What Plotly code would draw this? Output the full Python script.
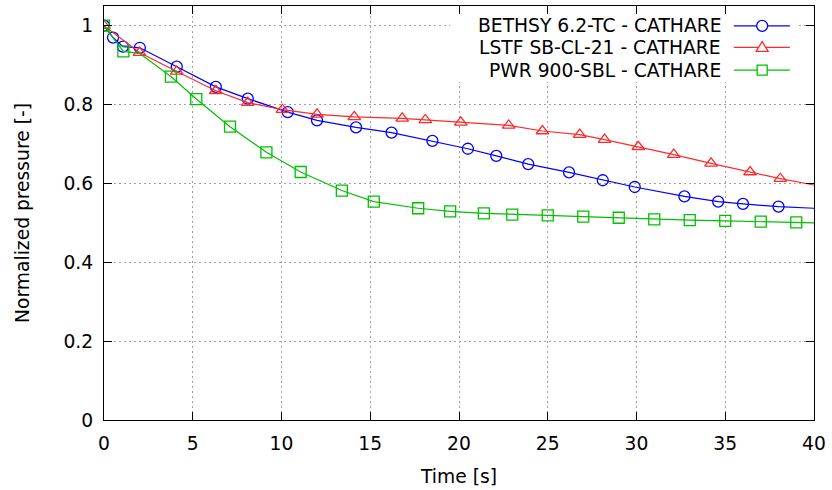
import plotly.graph_objects as go

# BETHSY 6.2-TC - CATHARE (markers)
bethsy_t = [0.0, 0.51, 1.07, 2.02, 4.1, 6.3, 8.1, 10.35, 12.0, 14.2, 16.2, 18.5, 20.5,
            22.1, 23.9, 26.2, 28.1, 29.9, 32.7, 34.6, 36.0, 38.0]
bethsy_p = [1.0, 0.970, 0.947, 0.944, 0.896, 0.845, 0.815, 0.781, 0.760, 0.742, 0.729,
            0.708, 0.688, 0.670, 0.649, 0.628, 0.608, 0.591, 0.567, 0.554, 0.548, 0.541]
bethsy_end = (40.0, 0.537)

# LSTF SB-CL-21 - CATHARE (markers)
lstf_t = [0.0, 2.0, 4.1, 6.3, 8.1, 10.05, 12.0, 14.1, 16.8, 18.1, 20.1, 22.8, 24.7,
          26.8, 28.2, 30.1, 32.1, 34.2, 36.4, 38.1]
lstf_p = [1.0, 0.932, 0.884, 0.835, 0.805, 0.787, 0.775, 0.769, 0.765, 0.761, 0.755,
          0.747, 0.733, 0.724, 0.711, 0.693, 0.673, 0.651, 0.629, 0.612]
lstf_end = (40.0, 0.596)

# PWR 900-SBL - CATHARE (markers)
pwr_t = [0.0, 1.09, 3.77, 5.2, 7.1, 9.15, 11.08, 13.4, 15.2, 17.7, 19.5, 21.4, 23.0,
         25.0, 27.0, 29.0, 31.0, 33.0, 35.0, 37.0, 39.0]
pwr_p = [1.0, 0.935, 0.871, 0.814, 0.744, 0.679, 0.629, 0.582, 0.554, 0.537, 0.529,
         0.524, 0.521, 0.519, 0.516, 0.513, 0.509, 0.507, 0.505, 0.503, 0.501]
pwr_extra = (2.0, 0.930)
pwr_end = (40.0, 0.500)

names = ["BETHSY 6.2-TC - CATHARE", "LSTF SB-CL-21 - CATHARE", "PWR 900-SBL - CATHARE"]
colors = ["#0000ff", "#ff2a2a", "#00c000"]
symbols = ["circle-open", "triangle-up-open", "square-open"]

font = "DejaVu Sans, Verdana, sans-serif"
fsize = 18.7

series = [
    (bethsy_t, bethsy_p, bethsy_t + [bethsy_end[0]], bethsy_p + [bethsy_end[1]]),
    (lstf_t, lstf_p, lstf_t + [lstf_end[0]], lstf_p + [lstf_end[1]]),
    (pwr_t, pwr_p,
     pwr_t[:2] + [pwr_extra[0]] + pwr_t[2:] + [pwr_end[0]],
     pwr_p[:2] + [pwr_extra[1]] + pwr_p[2:] + [pwr_end[1]]),
]

fig = go.Figure()
for (mt, mp, lt, lp), name, color, sym in zip(series, names, colors, symbols):
    fig.add_trace(go.Scatter(x=lt, y=lp, mode="lines", line=dict(color=color, width=1.2),
                             showlegend=False, hoverinfo="skip"))
    fig.add_trace(go.Scatter(x=mt, y=mp, mode="markers", name=name,
                             marker=dict(symbol=sym, size=11, color=color,
                                         line=dict(width=1.3, color=color)),
                             showlegend=False))

# the key blanks out the grid behind it (opaque, borderless box)
fig.add_shape(type="rect", xref="x", yref="y", x0=19.5, x1=39.15, y0=0.857, y1=1.05,
              layer="between", line=dict(width=0), fillcolor="white")

# gnuplot-style key: text right-aligned, sample on the right
row_y = [0.952, 0.900, 0.845]
for name, color, sym, ry in zip(names, colors, symbols, row_y):
    fig.add_annotation(x=0.8715, y=ry, xref="paper", yref="paper", text=name,
                       showarrow=False, xanchor="right", yanchor="middle",
                       font=dict(family=font, size=fsize, color="black"))
    fig.add_shape(type="line", xref="paper", yref="paper", x0=0.887, x1=0.966,
                  y0=ry, y1=ry, line=dict(color=color, width=1.2))
    if sym == "circle-open":
        fig.add_shape(type="circle", xref="paper", yref="paper", xsizemode="pixel",
                      ysizemode="pixel", xanchor=0.927, yanchor=ry,
                      x0=-5.5, x1=5.5, y0=-5.5, y1=5.5,
                      line=dict(color=color, width=1.3), fillcolor="white")
    elif sym == "triangle-up-open":
        fig.add_shape(type="path", xref="paper", yref="paper", xsizemode="pixel",
                      ysizemode="pixel", xanchor=0.927, yanchor=ry,
                      path="M -6,-4 L 6,-4 L 0,6 Z",
                      line=dict(color=color, width=1.3), fillcolor="white")
    else:
        fig.add_shape(type="rect", xref="paper", yref="paper", xsizemode="pixel",
                      ysizemode="pixel", xanchor=0.927, yanchor=ry,
                      x0=-5, x1=5, y0=-5, y1=5,
                      line=dict(color=color, width=1.3), fillcolor="white")

axis_common = dict(
    showline=True, linecolor="black", linewidth=1.3, mirror="allticks",
    ticks="inside", ticklen=8, tickwidth=1.2, tickcolor="black",
    showgrid=True, gridcolor="#a0a0a0", griddash="2px,3px", gridwidth=1,
    zeroline=False, automargin=False, ticklabelstandoff=6,
    tickfont=dict(family=font, size=fsize, color="black"),
)

fig.update_layout(
    width=832, height=490,
    margin=dict(l=104, r=18, t=6, b=70),
    plot_bgcolor="white", paper_bgcolor="white",
    font=dict(family=font, size=fsize, color="black"),
    xaxis=dict(range=[0, 40], tick0=0, dtick=5,
               title=dict(text="Time [s]", standoff=17, font=dict(family=font, size=fsize)),
               **axis_common),
    yaxis=dict(range=[0, 1.05], tickvals=[0, 0.2, 0.4, 0.6, 0.8, 1],
               ticktext=["0", "0.2", "0.4", "0.6", "0.8", "1"],
               title=dict(text="Normalized pressure [-]", standoff=28,
                          font=dict(family=font, size=fsize)),
               **axis_common),
)

fig.write_html("out.html", config={"displayModeBar": False},
               post_script="document.body.style.margin='0';")
